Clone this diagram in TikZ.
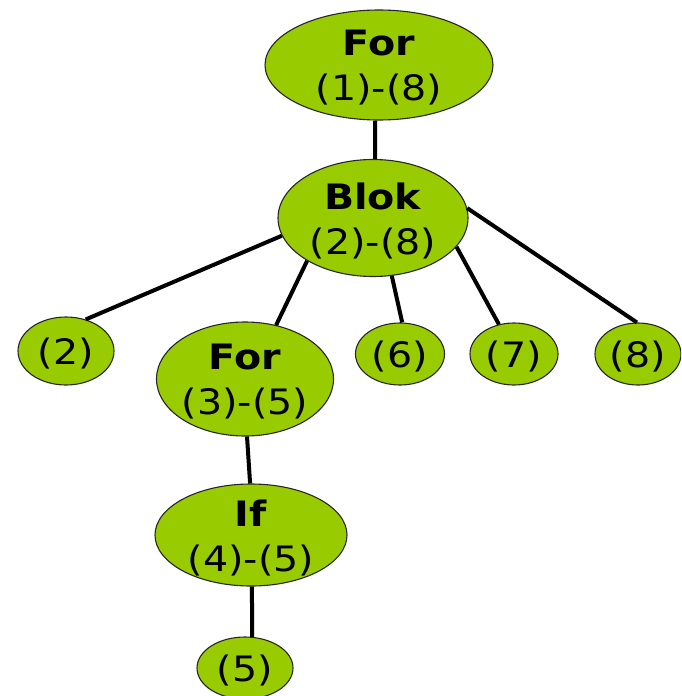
\documentclass[tikz,border=0pt]{standalone}
\usepackage{fontspec}
\setmainfont[FakeStretch=1.13]{DejaVu Sans}
\usetikzlibrary{shapes.geometric}
\definecolor{leaf}{HTML}{99CC00}
\tikzset{
  tn/.style={ellipse, draw=black!85, line width=1.1pt, fill=leaf, inner sep=0pt},
  lbl/.style={align=center, inner sep=0pt, text=black, yshift=-3pt, font=\fontsize{35}{45}\selectfont},
  edge/.style={line width=4pt, draw=black}
}
\begin{document}
\begin{tikzpicture}[x=1pt,y=-1pt]
\useasboundingbox (0,0) rectangle (681,696);
\clip (0,0) rectangle (681,696);
\node[tn, minimum width=228pt, minimum height=110pt, label={[lbl]center:{\textbf{For}\\(1)-(8)}}] (for1) at (379,65) {};
\node[tn, minimum width=190pt, minimum height=117pt, label={[lbl]center:{\textbf{Blok}\\(2)-(8)}}] (blok) at (373,218) {};
\node[tn, minimum width=96pt, minimum height=68pt, label={[lbl]center:{(2)}}] (n2) at (66,351) {};
\node[tn, minimum width=177pt, minimum height=114pt, label={[lbl]center:{\textbf{For}\\(3)-(5)}}] (for3) at (245,379) {};
\node[tn, minimum width=89pt, minimum height=62pt, label={[lbl]center:{(6)}}] (n6) at (400,354) {};
\node[tn, minimum width=88pt, minimum height=62pt, label={[lbl]center:{(7)}}] (n7) at (514,354) {};
\node[tn, minimum width=86pt, minimum height=62pt, label={[lbl]center:{(8)}}] (n8) at (638,354) {};
\node[tn, minimum width=192pt, minimum height=102pt, label={[lbl]center:{\textbf{If}\\(4)-(5)}}] (if4) at (251,535) {};
\node[tn, minimum width=96pt, minimum height=62pt, label={[lbl]center:{(5)}}] (n5) at (245,668) {};
\draw[edge] (for1.-94) -- (blok.88);
\draw[edge] (blok.191) -- (n2.58);
\draw[edge] (blok.213) -- (for3.60);
\draw[edge] (blok.-72) -- (n6.86);
\draw[edge] (blok.-19) -- (n7.117);
\draw[edge] (blok.6) -- (n8.92);
\draw[edge] (for3.-88) -- (if4.91);
\draw[edge] (if4.-89) -- (n5.77);
\end{tikzpicture}
\end{document}
